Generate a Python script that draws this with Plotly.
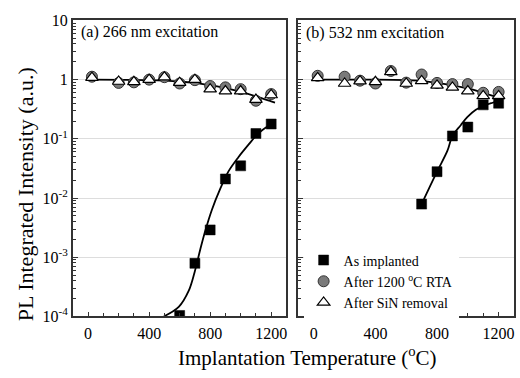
import plotly.graph_objects as go

# ---------------- data ----------------
temps = [25, 200, 300, 400, 500, 600, 700, 800, 900, 1000, 1100, 1200]

# (a) 266 nm excitation
a_rta = [1.12, 0.88, 0.90, 1.00, 1.10, 0.86, 0.98, 0.78, 0.74, 0.69, 0.44, 0.57]
a_sin = [1.08, 0.93, 0.92, 1.00, 1.10, 0.89, 1.00, 0.69, 0.64, 0.64, 0.46, 0.55]
a_imp_t = [600, 700, 800, 900, 1000, 1100, 1200]
a_imp = [1.04e-4, 7.9e-4, 2.9e-3, 0.021, 0.035, 0.123, 0.178]
a_fit_hi_t = [25, 400, 600, 700, 800, 900, 1000, 1100, 1200, 1225]
a_fit_hi = [1.0, 0.98, 0.93, 0.88, 0.80, 0.72, 0.62, 0.52, 0.43, 0.41]
a_fit_lo_t = [496, 594, 659, 698, 735, 768, 811, 865, 920, 985, 1050, 1115, 1192, 1205]
a_fit_lo = [1.0e-4, 1.45e-4, 2.7e-4, 5.6e-4, 1.35e-3, 2.8e-3, 6.3e-3, 0.0141, 0.0282, 0.049, 0.079, 0.123, 0.172, 0.18]

# (b) 532 nm excitation
b_rta = [1.16, 1.12, 0.96, 0.86, 1.40, 0.89, 1.22, 0.88, 0.84, 0.84, 0.60, 0.62]
b_sin = [1.07, 0.86, 0.94, 0.92, 1.35, 0.86, 0.95, 0.80, 0.74, 0.64, 0.53, 0.53]
b_imp_t = [700, 800, 900, 1000, 1100, 1200]
b_imp = [0.0079, 0.0279, 0.112, 0.158, 0.375, 0.40]
b_fit_hi_t = [25, 400, 600, 700, 800, 900, 1000, 1100, 1200, 1230]
b_fit_hi = [1.0, 1.0, 0.98, 0.95, 0.88, 0.80, 0.71, 0.60, 0.50, 0.47]
b_fit_lo_t = [700, 800, 867, 900, 954, 998, 1052, 1106, 1161, 1200]
b_fit_lo = [0.0079, 0.0279, 0.0624, 0.112, 0.17, 0.234, 0.309, 0.363, 0.407, 0.437]

y_tickvals = [1e-4, 1e-3, 1e-2, 1e-1, 1, 10]
y_ticktext = ["10<sup>-4</sup>", "10<sup>-3</sup>", "10<sup>-2</sup>", "10<sup>-1</sup>", "1", "10"]
x_tickvals = [0, 400, 800, 1200]

panel_titles = ["(a) 266 nm excitation", "(b) 532 nm excitation"]
legend_names = ["As implanted", "After 1200 <sup>o</sup>C RTA", "After SiN removal"]

FONT = "Times New Roman, Liberation Serif, serif"
AXC = "#333333"

fig = go.Figure()

panels = [
    ("x", "y", a_rta, a_sin, a_imp_t, a_imp, a_fit_hi_t, a_fit_hi, a_fit_lo_t, a_fit_lo),
    ("x2", "y2", b_rta, b_sin, b_imp_t, b_imp, b_fit_hi_t, b_fit_hi, b_fit_lo_t, b_fit_lo),
]

for i, (xa, ya, rta, sin, it, iv, fht, fh, flt, fl) in enumerate(panels):
    show = (i == 1)
    fig.add_trace(go.Scatter(x=fht, y=fh, mode="lines", line=dict(color="black", width=1.8, shape="spline"),
                             xaxis=xa, yaxis=ya, showlegend=False, hoverinfo="skip"))
    fig.add_trace(go.Scatter(x=flt, y=fl, mode="lines", line=dict(color="black", width=1.8, shape="spline"),
                             xaxis=xa, yaxis=ya, showlegend=False, hoverinfo="skip"))
    fig.add_trace(go.Scatter(x=temps, y=rta, mode="markers", name=legend_names[1], legendrank=2,
                             marker=dict(symbol="circle", size=11, color="#7a7a7a",
                                         line=dict(color="#333333", width=1)),
                             xaxis=xa, yaxis=ya, showlegend=show))
    fig.add_trace(go.Scatter(x=temps, y=sin, mode="markers", name=legend_names[2], legendrank=3,
                             marker=dict(symbol="triangle-up", size=11, color="white",
                                         line=dict(color="black", width=1.2)),
                             xaxis=xa, yaxis=ya, showlegend=show))
    fig.add_trace(go.Scatter(x=it, y=iv, mode="markers", name=legend_names[0], legendrank=1,
                             marker=dict(symbol="square", size=10, color="black",
                                         line=dict(color="black", width=0.5)),
                             xaxis=xa, yaxis=ya, showlegend=show))

minor_y = [m * 10 ** e for e in range(-4, 1) for m in range(2, 10)]

xcommon = dict(range=[-100, 1300], tickvals=x_tickvals, ticks="inside", ticklen=5, tickwidth=1,
               tickcolor=AXC, showline=True, linecolor=AXC, linewidth=1.6, mirror=True,
               showgrid=False, zeroline=False, ticklabelstandoff=2,
               minor=dict(dtick=100, ticks="inside", ticklen=4, tickcolor=AXC, showgrid=False),
               tickfont=dict(family=FONT, size=16, color="black"))
ycommon = dict(type="log", range=[-4, 1], tickvals=y_tickvals, ticks="inside", ticklen=5, tickwidth=1,
               tickcolor=AXC, showline=True, linecolor=AXC, linewidth=1.6, mirror=True,
               showgrid=True, gridcolor="#dddddd", gridwidth=1, zeroline=False,
               minor=dict(tickvals=minor_y, ticks="inside", ticklen=3, tickcolor=AXC, showgrid=False),
               tickfont=dict(family=FONT, size=16, color="black"), domain=[0.1455, 0.9656])

fig.update_layout(
    width=520, height=378, margin=dict(l=0, r=0, t=0, b=0),
    paper_bgcolor="white", plot_bgcolor="white",
    font=dict(family=FONT, color="black"),
    xaxis=dict(xcommon, domain=[0.1404, 0.5519], anchor="y"),
    xaxis2=dict(xcommon, domain=[0.575, 0.9904], anchor="y2"),
    yaxis=dict(ycommon, anchor="x", ticktext=y_ticktext),
    yaxis2=dict(ycommon, anchor="x2", showticklabels=False),
    legend=dict(x=0.585, y=0.345, xanchor="left", yanchor="top", bgcolor="white",
                font=dict(family=FONT, size=14, color="black"), tracegroupgap=0,
                itemwidth=30),
    showlegend=True,
)

fig.add_annotation(text=panel_titles[0], xref="paper", yref="paper", x=0.153, y=(378 - 25) / 378,
                   xanchor="left", yanchor="middle", showarrow=False,
                   font=dict(family=FONT, size=16, color="black"))
fig.add_annotation(text=panel_titles[1], xref="paper", yref="paper", x=0.585, y=(378 - 26) / 378,
                   xanchor="left", yanchor="middle", showarrow=False,
                   font=dict(family=FONT, size=16, color="black"))
fig.add_annotation(text="Implantation Temperature (<sup>o</sup>C)", xref="paper", yref="paper",
                   x=0.592, y=(378 - 365) / 378, xanchor="center", yanchor="middle", showarrow=False,
                   font=dict(family=FONT, size=21, color="black"))
fig.add_annotation(text="PL Integrated Intensity (a.u.)", xref="paper", yref="paper",
                   x=25 / 520, y=(378 - 195) / 378, xanchor="center", yanchor="middle", showarrow=False,
                   textangle=-90, font=dict(family=FONT, size=22, color="black"))

fig.write_html("out.html")
